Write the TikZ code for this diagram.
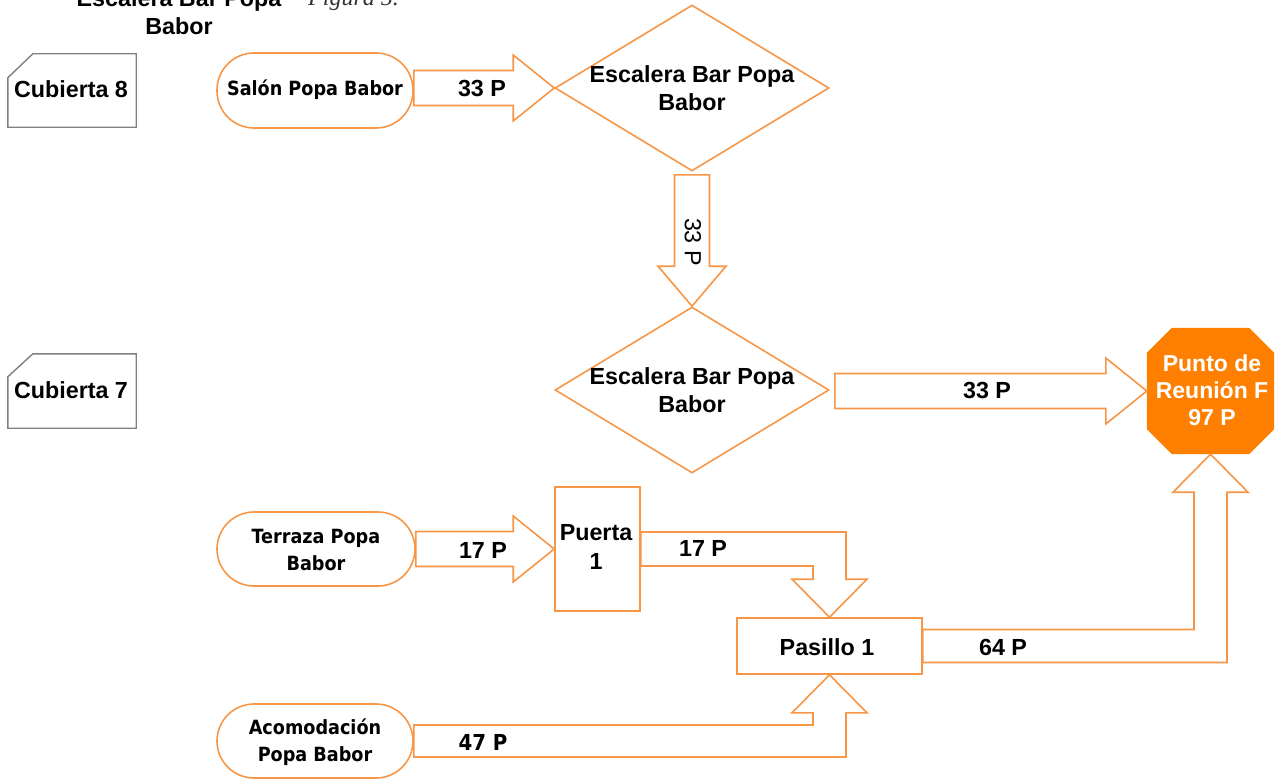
\documentclass[tikz,border=0pt]{standalone}
\usepackage{fontspec}
\setmainfont{Liberation Sans}
\newfontfamily\condfont{DejaVu Sans Condensed}
\newfontfamily\capfont{Liberation Serif}
\usetikzlibrary{shapes.geometric,calc}
\definecolor{flowOrange}{HTML}{F79646}
\definecolor{meetOrange}{HTML}{FF8000}
\definecolor{deckGray}{HTML}{808080}

% straight block arrow pointing right, from the east side of #1 to the point #2
\newcommand\blockright[2]{%
  \draw[flow] ($(#1 |- #2)+(0,-17.5)$) -- ($(#2)+(-41,-17.5)$) -- ($(#2)+(-41,-33)$)
    -- (#2) -- ($(#2)+(-41,33)$) -- ($(#2)+(-41,17.5)$) -- ($(#1 |- #2)+(0,17.5)$) -- cycle;}

\begin{document}
\begin{tikzpicture}[x=1pt,y=-1pt,
  lbl/.style={font=\fontsize{23.3}{28}\selectfont\bfseries, align=center, inner sep=0},
  clbl/.style={font=\fontsize{19.6}{27}\selectfont\condfont\bfseries, align=center, inner sep=0},
  flow/.style={draw=flowOrange, line width=1.6, line join=miter, fill=white},
  stadium/.style={draw=flowOrange, line width=1.6, rounded corners=37, minimum width=196, minimum height=75, inner sep=0},
  plainbox/.style={draw=flowOrange, line width=1.6, inner sep=0},
  decision/.style={diamond, draw=flowOrange, line width=1.6, minimum width=274, minimum height=166, inner sep=0},
  frame/.style={inner sep=0, minimum width=128, minimum height=74},
  deckline/.style={draw=deckGray, line width=1.4, line join=miter},
]
\useasboundingbox (0,0) rectangle (1281,781);

% caption heading, partly above the page edge
\node[lbl, anchor=base] (title) at (179,35) {Escalera Bar Popa\\Babor};
\node[anchor=base west, inner sep=0, text=black!80, font=\fontsize{24}{28}\selectfont\capfont\itshape] (fig) at (308,6) {Figura 5.};

% deck markers
\node[frame, minimum height=73] (c8) at (72,90.5) {};
\draw[deckline] ($(c8.north west)+(25,0)$) -- (c8.north east) -- (c8.south east) -- (c8.south west) -- ($(c8.north west)+(0,24)$) -- cycle;
\node[lbl] (c8t) at (71,89) {Cubierta 8};
\node[frame] (c7) at (72,391) {};
\draw[deckline] ($(c7.north west)+(25,0)$) -- (c7.north east) -- (c7.south east) -- (c7.south west) -- ($(c7.north west)+(0,23)$) -- cycle;
\node[lbl] (c7t) at (71,390) {Cubierta 7};

% origins
\node[stadium] (salon) at (315,90.5) {};
\node[clbl] (salont) at (315,90) {Salón Popa Babor};
\node[stadium, minimum width=198, minimum height=74] (terr) at (316,549) {};
\node[clbl] (terrt) at (316,550) {Terraza Popa\\Babor};
\node[stadium, minimum height=74] (acom) at (315,741) {};
\node[clbl] (acomt) at (315,742) {Acomodación\\Popa Babor};

% stairs
\node[decision] (esc1) at (692,88) {};
\node[lbl] (esc1t) at (692,88) {Escalera Bar Popa\\Babor};
\node[decision] (esc2) at (692,390) {};
\node[lbl] (esc2t) at (692,390) {Escalera Bar Popa\\Babor};

% door and corridor
\node[plainbox, minimum width=85, minimum height=124] (puerta) at (597.5,549) {};
\node[lbl, font=\fontsize{23.3}{29}\selectfont\bfseries] (puertat) at (596,547) {Puerta\\1};
\node[plainbox, minimum width=185, minimum height=56] (pasillo) at (829.5,646) {};
\node[lbl] (pasillot) at (827,647) {Pasillo 1};

% muster point
\node[inner sep=0, minimum width=127, minimum height=126] (meet) at (1210.5,391) {};
\fill[meetOrange] ($(meet.north west)+(25,0)$) -- ($(meet.north east)+(-25,0)$) -- ($(meet.north east)+(0,25)$)
  -- ($(meet.south east)+(0,-25)$) -- ($(meet.south east)+(-25,0)$) -- ($(meet.south west)+(25,0)$)
  -- ($(meet.south west)+(0,-25)$) -- ($(meet.north west)+(0,25)$) -- cycle;
\node[lbl, text=white, font=\fontsize{23}{27}\selectfont\bfseries] (meett) at (1212,390) {Punto de\\Reunión F\\97 P};

% flows
\blockright{salon.east}{esc1.west}
\node[lbl] (f1) at (482,88) {33 P};

\draw[flow] ($(esc1.south)+(-17.5,3)$) -- ($(esc2.north)+(-17.5,-40)$) -- ($(esc2.north)+(-34,-40)$)
  -- (esc2.north) -- ($(esc2.north)+(34,-40)$) -- ($(esc2.north)+(17.5,-40)$) -- ($(esc1.south)+(17.5,3)$) -- cycle;
\node[lbl, font=\fontsize{23.3}{28}\selectfont, rotate=-90] (f2) at (693,242) {33 P};

\coordinate (e2out) at ($(esc2.east)+(5,0)$);
\blockright{e2out}{meet.west}
\node[lbl] (f3) at (987,390) {33 P};

\blockright{terr.east}{puerta.west}
\node[lbl] (f4) at (483,550) {17 P};

\coordinate (k1) at (pasillo.north |- puerta.east);
\draw[flow] ($(puerta.east)+(0,-17)$) -- ($(k1)+(16.5,-17)$) -- ($(pasillo.north)+(16.5,-38)$)
  -- ($(pasillo.north)+(37.5,-38)$) -- (pasillo.north) -- ($(pasillo.north)+(-37.5,-38)$)
  -- ($(pasillo.north)+(-16.5,-38)$) -- ($(k1)+(-16.5,17)$) -- ($(puerta.east)+(0,17)$) -- cycle;
\node[lbl] (f5) at (703,548) {17 P};

\coordinate (k2) at (pasillo.south |- acom.east);
\draw[flow] ($(acom.east)+(0,-16)$) -- ($(k2)+(-16.5,-16)$) -- ($(pasillo.south)+(-16.5,38)$)
  -- ($(pasillo.south)+(-37.5,38)$) -- (pasillo.south) -- ($(pasillo.south)+(37.5,38)$)
  -- ($(pasillo.south)+(16.5,38)$) -- ($(k2)+(16.5,16)$) -- ($(acom.east)+(0,16)$) -- cycle;
\node[clbl, font=\fontsize{22}{26}\selectfont\condfont\bfseries] (f6) at (483,742) {47 P};

\coordinate (k3) at (meet.south |- pasillo.east);
\draw[flow] ($(pasillo.east)+(0,-16.5)$) -- ($(k3)+(-16.5,-16.5)$) -- ($(meet.south)+(-16.5,38)$)
  -- ($(meet.south)+(-37.5,38)$) -- (meet.south) -- ($(meet.south)+(37.5,38)$)
  -- ($(meet.south)+(16.5,38)$) -- ($(k3)+(16.5,16.5)$) -- ($(pasillo.east)+(0,16.5)$) -- cycle;
\node[lbl] (f7) at (1003,647) {64 P};
\end{tikzpicture}
\end{document}
